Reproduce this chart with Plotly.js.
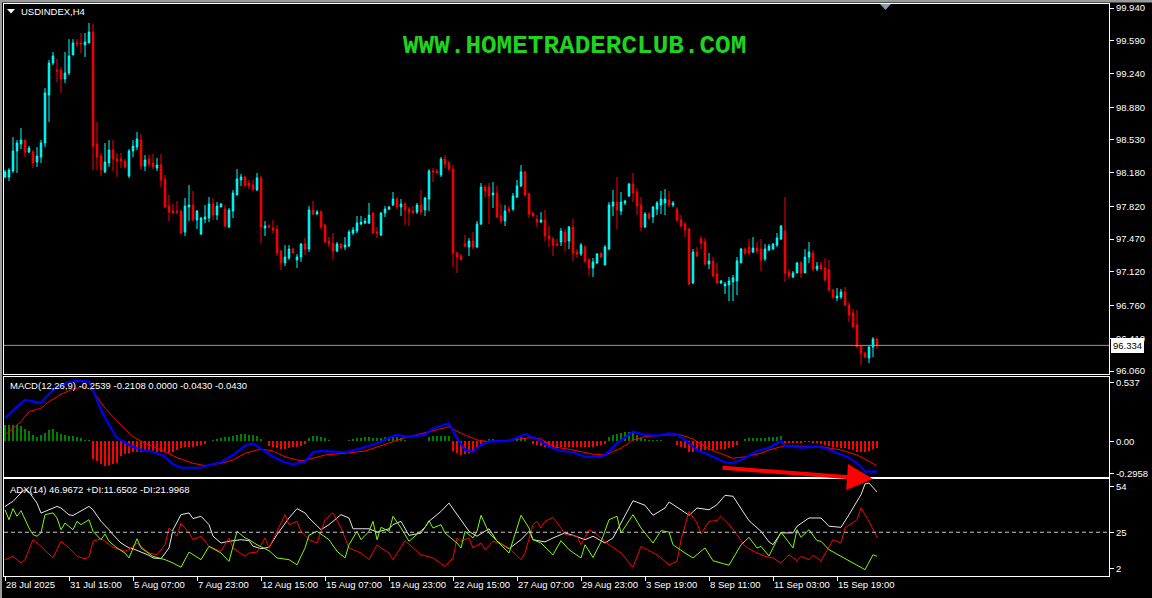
<!DOCTYPE html>
<html><head><meta charset="utf-8">
<script src="https://cdn.plot.ly/plotly-3.0.1.min.js"></script>
<style>html,body{margin:0;padding:0;background:#000;}#chart{width:1152px;height:598px;}</style>
</head><body><div id="chart"></div>
<script>
const symbolTitle = 'USDINDEX,H4';
const watermark = 'WWW.HOMETRADERCLUB.COM';
const macdTitle = 'MACD(12,26,9) -0.2539 -0.2108 0.0000 -0.0430 -0.0430';
const adxTitle = 'ADX(14) 46.9672 +DI:11.6502 -DI:21.9968';

const openP = [98.134,98.134,98.198,98.411,98.486,98.529,98.401,98.401,98.294,98.347,
98.497,99.010,99.352,99.277,99.277,99.181,99.245,99.438,99.566,99.566,
99.545,99.566,99.683,98.486,98.358,98.188,98.283,98.422,98.326,98.326,
98.304,98.145,98.411,98.454,98.529,98.251,98.326,98.283,98.229,98.262,
98.113,97.823,97.770,97.770,97.770,97.545,97.813,97.834,97.674,97.524,
97.684,97.695,97.845,97.727,97.813,97.791,97.599,97.770,97.941,98.102,
98.134,98.070,98.048,97.995,98.123,97.588,97.610,97.588,97.577,97.342,
97.215,97.268,97.364,97.247,97.278,97.417,97.364,97.781,97.738,97.759,
97.620,97.449,97.428,97.342,97.417,97.385,97.396,97.535,97.556,97.631,
97.642,97.642,97.749,97.545,97.513,97.749,97.791,97.834,97.898,97.813,
97.845,97.791,97.770,97.759,97.834,97.781,97.898,98.198,98.198,98.155,
98.326,98.283,98.219,97.321,97.289,97.417,97.385,97.449,97.385,97.631,
98.027,98.027,97.941,97.963,97.717,97.663,97.791,97.791,97.920,98.038,
98.188,97.952,97.749,97.684,97.652,97.674,97.503,97.471,97.417,97.439,
97.545,97.449,97.599,97.332,97.310,97.385,97.247,97.161,97.215,97.321,
97.193,97.364,97.823,97.866,97.770,97.856,97.931,98.059,97.973,97.834,
97.599,97.738,97.706,97.791,97.834,97.856,97.888,97.834,97.791,97.674,
97.631,97.577,97.001,97.332,97.471,97.439,97.204,97.236,97.097,97.001,
96.969,96.980,97.012,97.022,97.215,97.364,97.385,97.332,97.374,97.364,
97.257,97.353,97.364,97.406,97.471,97.556,97.118,97.065,97.108,97.215,
97.108,97.278,97.321,97.150,97.193,97.161,97.140,96.926,96.840,96.851,
96.905,96.765,96.680,96.552,96.327,96.252,96.199,96.316,96.402];
const highP = [98.209,98.229,98.561,98.529,98.657,98.529,98.465,98.422,98.454,98.529,
99.084,99.384,99.470,99.395,99.309,99.470,99.608,99.608,99.608,99.673,
99.673,99.780,99.769,98.722,98.390,98.497,98.529,98.529,98.390,98.390,
98.326,98.432,98.529,98.615,98.593,98.369,98.369,98.379,98.337,98.379,
98.155,97.941,97.845,97.877,97.781,97.909,98.048,97.984,97.781,97.706,
97.834,97.920,97.909,97.866,97.856,97.834,97.802,97.995,98.219,98.166,
98.145,98.102,98.102,98.177,98.145,97.663,97.631,97.674,97.620,97.353,
97.406,97.406,97.374,97.310,97.428,97.481,97.823,97.877,97.781,97.781,
97.631,97.492,97.535,97.439,97.428,97.492,97.567,97.599,97.717,97.717,
97.695,97.856,97.759,97.599,97.759,97.823,97.823,97.973,97.920,97.898,
97.866,97.813,97.823,97.856,97.995,97.920,98.219,98.229,98.219,98.347,
98.369,98.304,98.262,97.332,97.310,97.513,97.481,97.545,97.663,98.070,
98.048,98.070,98.080,98.038,97.845,97.834,97.823,97.963,98.102,98.262,
98.198,97.963,97.759,97.727,97.759,97.781,97.610,97.492,97.471,97.588,
97.577,97.610,97.684,97.364,97.428,97.406,97.268,97.268,97.321,97.321,
97.406,97.866,97.995,98.134,97.973,97.888,98.070,98.177,98.016,97.920,
97.759,97.759,97.823,97.877,97.984,98.005,97.984,97.877,97.813,97.727,
97.652,97.588,97.364,97.385,97.503,97.481,97.321,97.278,97.215,97.033,
97.012,97.065,97.086,97.278,97.374,97.374,97.471,97.492,97.439,97.471,
97.417,97.417,97.428,97.535,97.620,97.920,97.150,97.129,97.225,97.236,
97.364,97.439,97.353,97.225,97.225,97.268,97.247,96.937,96.947,96.937,
96.958,96.797,96.723,96.712,96.338,96.263,96.327,96.423,96.413];
const lowP = [98.123,98.091,98.177,98.177,98.432,98.347,98.390,98.229,98.241,98.283,
98.454,98.722,99.330,99.149,99.032,99.138,99.223,99.438,99.523,99.459,
99.416,99.566,98.209,98.209,98.145,98.177,98.241,98.198,98.134,98.229,
98.229,98.123,98.347,98.422,98.209,98.198,98.241,98.219,98.198,98.027,
97.802,97.663,97.749,97.738,97.524,97.503,97.663,97.663,97.577,97.513,
97.642,97.652,97.674,97.674,97.813,97.599,97.588,97.695,97.941,98.038,
98.027,98.005,97.984,97.984,97.428,97.503,97.588,97.535,97.289,97.140,
97.182,97.247,97.310,97.161,97.225,97.300,97.332,97.727,97.727,97.577,
97.428,97.385,97.257,97.332,97.364,97.353,97.385,97.513,97.535,97.620,
97.631,97.631,97.524,97.481,97.503,97.706,97.781,97.823,97.791,97.717,
97.620,97.610,97.749,97.738,97.727,97.717,97.770,98.080,98.166,98.134,
98.229,98.198,97.172,97.108,97.247,97.385,97.289,97.364,97.374,97.620,
97.920,97.631,97.802,97.695,97.631,97.610,97.749,97.770,97.909,98.027,
97.931,97.695,97.706,97.599,97.642,97.449,97.385,97.289,97.396,97.396,
97.342,97.364,97.236,97.268,97.289,97.215,97.086,97.065,97.204,97.268,
97.193,97.353,97.717,97.577,97.727,97.834,97.920,97.866,97.727,97.556,
97.588,97.674,97.642,97.727,97.738,97.727,97.813,97.813,97.652,97.599,
97.492,96.980,96.990,97.278,97.364,97.193,97.150,97.065,96.990,96.990,
96.883,96.808,96.808,96.872,97.215,97.300,97.300,97.321,97.321,97.129,
97.236,97.342,97.353,97.385,97.460,97.012,97.044,97.054,97.108,97.054,
97.108,97.215,97.129,97.129,97.140,97.022,96.915,96.830,96.808,96.830,
96.755,96.584,96.530,96.316,96.124,96.199,96.145,96.210,96.295];
const closeP = [98.188,98.209,98.411,98.497,98.529,98.401,98.443,98.283,98.358,98.497,
99.032,99.352,99.427,99.266,99.181,99.245,99.427,99.566,99.555,99.555,
99.577,99.683,98.465,98.347,98.209,98.294,98.422,98.326,98.304,98.304,
98.241,98.411,98.465,98.540,98.251,98.315,98.272,98.241,98.262,98.102,
97.813,97.759,97.749,97.759,97.535,97.823,97.834,97.674,97.770,97.695,
97.706,97.845,97.727,97.823,97.845,97.610,97.781,97.963,98.113,98.134,
98.048,98.038,98.005,98.123,97.599,97.610,97.599,97.567,97.321,97.215,
97.278,97.364,97.321,97.278,97.417,97.364,97.781,97.738,97.759,97.599,
97.439,97.417,97.342,97.417,97.374,97.406,97.545,97.567,97.642,97.652,
97.663,97.727,97.535,97.535,97.749,97.791,97.813,97.898,97.813,97.845,
97.781,97.759,97.749,97.834,97.759,97.909,98.198,98.188,98.177,98.326,
98.272,98.219,97.321,97.278,97.247,97.396,97.449,97.385,97.631,98.027,
97.984,97.931,97.963,97.706,97.663,97.770,97.770,97.931,98.038,98.188,
97.941,97.738,97.717,97.652,97.674,97.503,97.471,97.406,97.406,97.556,
97.439,97.599,97.321,97.310,97.406,97.236,97.161,97.225,97.310,97.278,
97.385,97.834,97.866,97.781,97.866,97.877,98.059,97.963,97.823,97.599,
97.738,97.695,97.813,97.856,97.898,97.898,97.834,97.856,97.674,97.610,
97.567,96.990,97.332,97.289,97.428,97.204,97.236,97.076,97.001,97.022,
96.990,97.022,97.054,97.236,97.364,97.321,97.321,97.374,97.342,97.247,
97.364,97.396,97.417,97.481,97.610,97.108,97.076,97.108,97.215,97.108,
97.278,97.332,97.150,97.182,97.150,97.033,96.926,96.851,96.862,96.905,
96.765,96.658,96.530,96.316,96.252,96.210,96.316,96.402,96.334];

const macdHist = [0.150,0.150,0.150,0.147,0.144,0.113,0.098,0.058,0.043,0.058,
0.077,0.104,0.113,0.083,0.067,0.058,0.052,0.046,0.037,0.028,
0.015,0.012,-0.162,-0.178,-0.208,-0.223,-0.217,-0.208,-0.193,-0.132,
-0.116,-0.107,-0.101,-0.095,-0.095,-0.086,-0.086,-0.095,-0.101,-0.095,
-0.101,-0.107,-0.095,-0.077,-0.064,-0.055,-0.055,-0.049,-0.040,-0.034,
-0.024,0.006,0.015,0.021,0.028,0.037,0.043,0.052,0.064,0.070,
0.070,0.064,0.058,0.046,0.021,0.006,-0.040,-0.046,-0.064,-0.070,
-0.070,-0.064,-0.055,-0.046,-0.040,-0.024,0.028,0.046,0.052,0.043,
0.028,0.015,0.009,0.003,0.001,0.006,0.012,0.021,0.028,0.034,
0.037,0.040,0.034,0.028,0.034,0.037,0.040,0.043,0.043,0.028,
0.012,0.009,0.006,0.006,0.003,0.006,0.037,0.046,0.049,0.052,
0.052,0.046,-0.086,-0.107,-0.122,-0.119,-0.107,-0.101,-0.070,-0.040,
-0.009,0.021,0.021,0.006,-0.003,-0.003,0.001,0.009,0.028,0.037,
0.034,0.006,-0.021,-0.034,-0.040,-0.052,-0.058,-0.058,-0.058,-0.055,
-0.055,-0.052,-0.052,-0.049,-0.049,-0.049,-0.049,-0.046,-0.037,-0.031,
-0.021,0.037,0.058,0.073,0.080,0.083,0.089,0.083,0.064,0.034,
0.021,0.015,0.012,0.012,0.012,0.009,0.006,0.003,-0.034,-0.046,
-0.064,-0.095,-0.095,-0.089,-0.083,-0.080,-0.077,-0.077,-0.077,-0.070,
-0.067,-0.064,-0.052,-0.034,0.003,0.021,0.031,0.034,0.034,0.034,
0.034,0.037,0.037,0.037,0.052,-0.018,-0.018,-0.015,-0.012,-0.012,
-0.009,-0.009,-0.015,-0.018,-0.024,-0.034,-0.040,-0.046,-0.055,-0.061,
-0.064,-0.070,-0.077,-0.095,-0.101,-0.101,-0.089,-0.070,-0.061];

const macdBar = [0,3,5,7,9,10,12,16,18,21,22,24,26,28,31,34,37,40,42,44,49,51,54,57,60,62,64,67,70,72,75,77,79,82,85,89,91,94,96,98,100,104,105,107,110,111,113,115,117,119,121,126,130,133,136,139,142,145,149,150,153,156,157,160,163,166,168,170,173,176,180,182,185,188,191,194,195,199,203,205,208,211,214,215,218];
const macdLine = [0.213,0.320,0.381,0.365,0.354,0.399,0.473,0.546,0.556,0.549,0.473,0.289,0.152,0.032,-0.032,-0.078,-0.094,-0.140,-0.209,-0.241,-0.241,-0.216,-0.191,-0.124,-0.039,-0.017,-0.069,-0.140,-0.191,-0.209,-0.185,-0.099,-0.087,-0.094,-0.099,-0.062,-0.039,-0.002,0.035,0.060,0.044,0.053,0.060,0.121,0.158,0.167,0.029,-0.078,-0.094,-0.032,-0.002,0.005,0.066,0.023,-0.048,-0.087,-0.099,-0.140,-0.140,-0.124,-0.017,0.060,0.090,0.060,0.053,0.075,0.066,0.014,-0.078,-0.124,-0.191,-0.200,-0.149,-0.087,-0.057,0.005,-0.039,-0.057,-0.048,-0.062,-0.108,-0.149,-0.231,-0.277,-0.277];
const signalBar = [0,4,6,9,11,14,17,20,22,25,29,32,35,39,43,47,50,54,57,60,64,67,70,74,77,80,85,90,94,100,106,111,114,118,121,127,131,134,137,142,147,150,154,157,160,165,169,172,176,182,185,189,191,195,204,209,213,218];
const signalLine = [0.060,0.182,0.274,0.305,0.365,0.433,0.482,0.503,0.464,0.305,0.152,0.044,-0.017,-0.078,-0.149,-0.200,-0.222,-0.200,-0.170,-0.108,-0.069,-0.087,-0.140,-0.179,-0.154,-0.124,-0.108,-0.087,-0.039,0.035,0.090,0.136,0.075,0.014,-0.002,0.014,0.035,0.023,-0.048,-0.078,-0.117,-0.124,-0.062,0.014,0.044,0.060,0.060,0.023,-0.069,-0.154,-0.140,-0.108,-0.078,-0.039,-0.048,-0.078,-0.124,-0.222];

const adxBar = [0,2,4,5,6,8,9,11,13,14,16,17,19,20,21,22,24,26,27,29,31,32,34,36,37,39,41,42,44,46,47,49,51,52,54,56,59,61,62,64,66,68,71,73,75,76,79,81,84,86,87,91,93,96,97,99,101,104,106,109,111,113,115,116,118,121,123,126,129,131,132,135,137,140,142,145,147,150,152,155,157,160,162,165,166,169,171,173,176,178,180,182,186,189,191,192,194,197,198,201,204,206,209,211,214,215,216,218];
const adxLine = [41.3,44.5,49.8,51.9,50.4,43.4,37.1,39.2,41.3,40.3,36.0,35.6,38.6,39.8,41.3,39.2,31.9,26.6,23.5,18.2,15.1,14.6,12.5,10.4,8.8,8.3,15.1,26.6,36.1,37.2,33.6,35.1,29.8,22.5,18.2,19.3,20.3,19.7,16.2,14.6,15.5,23.5,34.0,39.9,37.2,34.0,26.6,29.8,36.1,34.0,27.2,27.2,25.1,27.2,29.8,31.9,23.0,24.5,31.9,38.2,43.4,36.5,28.8,25.6,22.5,27.2,19.3,14.6,20.3,25.6,20.3,18.9,21.4,24.6,23.1,20.3,22.5,18.2,21.4,36.1,44.9,42.0,35.7,40.3,44.1,39.2,35.7,40.3,39.2,42.4,48.3,47.7,32.3,25.6,18.9,17.2,24.6,24.6,28.8,34.0,34.0,28.8,28.1,36.1,48.7,55.4,56.1,50.4];
const plusDiBar = [0,1,2,3,4,6,7,8,9,10,12,13,14,15,17,18,19,21,22,24,25,26,28,30,31,33,34,35,37,40,42,44,46,49,51,54,56,58,60,61,63,66,68,71,73,75,76,78,81,83,85,86,88,89,91,92,93,94,96,97,99,101,104,105,106,107,109,110,113,114,115,117,118,119,121,124,126,129,131,132,134,137,139,141,144,145,147,149,151,153,154,157,159,162,164,166,167,170,172,175,177,181,182,184,186,188,189,191,192,194,197,198,199,201,203,204,206,209,212,215,217,218];
const plusDi = [39.2,32.9,39.9,35.1,38.6,27.7,23.5,22.5,24.6,36.1,37.2,34.0,26.6,30.8,26.6,31.9,29.8,32.9,25.6,20.3,23.9,19.3,15.1,11.9,8.8,20.9,15.1,13.4,9.8,7.7,5.6,2.9,12.5,7.7,16.1,11.9,6.6,25.6,21.4,20.3,17.1,13.4,8.8,7.7,4.5,15.1,23.1,25.6,20.3,13.0,8.8,17.1,25.6,20.3,25.6,31.9,20.3,28.1,25.6,35.1,27.7,19.3,25.6,28.1,32.3,27.7,29.8,24.5,18.2,15.1,25.6,21.4,25.6,35.7,24.5,17.1,11.9,35.7,27.7,20.3,18.2,10.8,19.7,14.0,8.8,17.1,9.1,18.9,32.9,35.1,24.5,36.1,27.7,18.2,26.0,25.1,17.1,11.9,8.8,15.1,7.0,4.2,8.8,17.1,21.8,15.1,16.1,10.0,15.1,25.1,15.1,26.6,21.8,26.6,19.7,19.3,14.0,9.8,5.6,1.4,10.8,9.8];
const minusDiBar = [0,2,4,5,7,9,12,14,16,18,20,21,22,24,25,27,30,31,33,36,38,40,41,43,44,46,47,49,51,52,54,56,57,60,61,63,65,66,68,70,71,73,74,76,78,80,82,84,86,89,91,93,94,96,97,100,103,104,107,110,112,113,114,116,117,119,120,122,124,126,129,130,132,133,134,135,137,139,140,143,144,146,148,151,154,157,159,163,166,168,169,171,173,174,176,178,179,181,183,185,188,190,192,194,196,198,199,201,202,204,207,209,210,213,214,216,218];
const minusDi = [7.7,9.8,5.6,7.7,20.3,16.1,8.8,19.3,15.1,9.8,8.3,9.2,19.3,20.9,19.3,15.5,13.0,14.0,18.2,11.9,10.8,17.1,27.7,22.5,30.8,24.5,20.3,22.5,16.1,15.1,13.0,21.4,15.1,9.8,11.9,12.5,21.4,15.1,25.6,36.1,29.8,31.9,25.6,20.3,18.2,32.9,37.2,27.7,15.1,11.9,7.7,17.1,15.1,11.9,7.7,19.7,13.0,10.8,8.8,3.5,8.8,21.4,19.3,21.4,15.1,18.2,14.0,19.3,17.6,15.1,7.7,11.9,29.8,31.9,27.7,31.9,34.4,27.7,23.5,22.5,17.1,26.6,23.5,17.1,11.9,2.9,16.1,10.8,4.5,6.6,20.3,38.2,30.8,23.9,31.9,32.3,35.1,29.8,23.5,16.1,11.9,9.8,8.8,5.6,10.8,7.0,9.8,7.7,10.5,7.0,20.3,18.2,27.7,32.9,40.3,31.9,21.8];

const timeTickBar = [0,16,32,48,64,80,96,112,128,144,160,176,192,208];
const timeTickText = ['28 Jul 2025','31 Jul 15:00','5 Aug 07:00','7 Aug 23:00','12 Aug 15:00','15 Aug 07:00','19 Aug 23:00','22 Aug 15:00','27 Aug 07:00','29 Aug 23:00','3 Sep 19:00','8 Sep 11:00','11 Sep 03:00','15 Sep 19:00'];
const priceTicks = [99.940,99.590,99.240,98.880,98.530,98.180,97.820,97.470,97.120,96.760,96.410,96.060];
const macdTicks = [0.537,0,-0.2958];
const macdTickText = ['0.537','0.00','-0.2958'];
const adxTicks = [54,25,2];
const adxLevel = 25;
const arrowFrom = {bar:179, value:-0.241};
const arrowTo = {bar:217, value:-0.344};

// ---------- layout geometry ----------
const W = 1152, H = 598, ML = 4, MR = 43, MT = 4, MB = 22;
const plotW = W - ML - MR, plotH = H - MT - MB;
const pyP = p => (H - MB - p) / plotH;   // pixel row -> paper y
const pxP = p => (p - ML) / plotW;       // pixel col -> paper x

const bars = openP.map((_, i) => i);
const lastPrice = closeP[closeP.length - 1];
const FONT = 'Liberation Sans, Arial, sans-serif';
const tickFont = {family: FONT, size: 9.5, color: '#ffffff'};

const traces = [
  {type:'candlestick', x:bars, open:openP, high:highP, low:lowP, close:closeP,
   xaxis:'x', yaxis:'y', whiskerwidth:0,
   increasing:{line:{color:'#00ffff', width:1}, fillcolor:'#00ffff'},
   decreasing:{line:{color:'#ff0000', width:1}, fillcolor:'#ff0000'},
   hoverinfo:'skip'},
  {type:'bar', x:bars, y:macdHist, xaxis:'x2', yaxis:'y2', width:0.72,
   marker:{color:macdHist.map(v => v >= 0 ? '#008000' : '#ff0000'), line:{width:0}}, hoverinfo:'skip'},
  {type:'scatter', mode:'lines', x:signalBar, y:signalLine, xaxis:'x2', yaxis:'y2',
   line:{color:'#ff0000', width:1}, hoverinfo:'skip'},
  {type:'scatter', mode:'lines', x:macdBar, y:macdLine, xaxis:'x2', yaxis:'y2',
   line:{color:'#0000ff', width:2.2}, hoverinfo:'skip'},
  {type:'scatter', mode:'lines', x:adxBar, y:adxLine, xaxis:'x3', yaxis:'y3',
   line:{color:'#e6e6e6', width:1}, hoverinfo:'skip'},
  {type:'scatter', mode:'lines', x:minusDiBar, y:minusDi, xaxis:'x3', yaxis:'y3',
   line:{color:'#ff0000', width:1}, hoverinfo:'skip'},
  {type:'scatter', mode:'lines', x:plusDiBar, y:plusDi, xaxis:'x3', yaxis:'y3',
   line:{color:'#7cfc00', width:1}, hoverinfo:'skip'}
];

const xCommon = {range:[-0.25, 276], showgrid:false, zeroline:false, showline:true, mirror:true,
  linecolor:'#ffffff', linewidth:1, fixedrange:true};
const yCommon = {side:'right', showgrid:false, zeroline:false, showline:true, mirror:true,
  linecolor:'#ffffff', linewidth:1, ticks:'outside', ticklen:4, tickcolor:'#ffffff',
  tickfont:tickFont, tickmode:'array', fixedrange:true};

const layout = {
  width:W, height:H, paper_bgcolor:'#000000', plot_bgcolor:'#000000',
  margin:{l:ML, r:MR, t:MT, b:MB}, showlegend:false, boxgap:0.45, bargap:0,
  xaxis:Object.assign({}, xCommon, {anchor:'y', showticklabels:false, ticks:'', rangeslider:{visible:false}}),
  xaxis2:Object.assign({}, xCommon, {anchor:'y2', showticklabels:false, ticks:''}),
  xaxis3:Object.assign({}, xCommon, {anchor:'y3', tickmode:'array', tickvals:timeTickBar, ticktext:timeTickText,
     ticks:'outside', ticklen:4, tickcolor:'#ffffff', tickangle:0, ticklabelposition:'outside right',
     ticklabeloverflow:'allow', tickfont:tickFont}),
  yaxis:Object.assign({}, yCommon, {domain:[pyP(374), 1], range:[96.028, 99.983], tickvals:priceTicks, tickformat:'.3f'}),
  yaxis2:Object.assign({}, yCommon, {domain:[pyP(477), pyP(377)], range:[-0.326, 0.592], tickvals:macdTicks, ticktext:macdTickText}),
  yaxis3:Object.assign({}, yCommon, {domain:[0, pyP(479)], range:[-2.6, 58.6], tickvals:adxTicks, ticktext:adxTicks.map(String)}),
  shapes:[
    {type:'line', xref:'paper', yref:'y', x0:0, x1:1, y0:lastPrice, y1:lastPrice, line:{color:'#9a9a9a', width:1}},
    {type:'line', xref:'paper', yref:'y3', x0:0, x1:1, y0:adxLevel, y1:adxLevel, line:{color:'#c8c8c8', width:1, dash:'4px,3px'}},
    {type:'rect', xref:'paper', yref:'paper', x0:pxP(0), x1:pxP(1152), y0:pyP(0), y1:pyP(2.5), fillcolor:'#9a9a9a', line:{width:0}, layer:'above'},
    {type:'rect', xref:'paper', yref:'paper', x0:pxP(0), x1:pxP(2), y0:pyP(598), y1:pyP(0), fillcolor:'#9a9a9a', line:{width:0}, layer:'above'},
    {type:'path', xref:'paper', yref:'paper', fillcolor:'#ffffff', line:{width:0},
     path:`M ${pxP(7)},${pyP(9)} L ${pxP(15)},${pyP(9)} L ${pxP(11)},${pyP(13.5)} Z`},
    {type:'path', xref:'paper', yref:'paper', fillcolor:'#8c99a6', line:{width:0},
     path:`M ${pxP(880)},${pyP(4)} L ${pxP(891)},${pyP(4)} L ${pxP(885.5)},${pyP(10)} Z`}
  ],
  annotations:[
    {xref:'paper', yref:'paper', x:pxP(19), y:pyP(11.5), xanchor:'left', yanchor:'middle', showarrow:false,
     text:symbolTitle, font:{family:FONT, size:9.5, color:'#ffffff'}},
    {xref:'paper', yref:'paper', x:pxP(574), y:pyP(46), xanchor:'center', yanchor:'middle', showarrow:false,
     text:watermark, font:{family:'Liberation Mono, Courier New, monospace', size:26, color:'#1fd41f', weight:'bold'}},
    {xref:'paper', yref:'paper', x:pxP(8), y:pyP(385), xanchor:'left', yanchor:'middle', showarrow:false,
     text:macdTitle, font:{family:FONT, size:9.5, color:'#ffffff'}},
    {xref:'paper', yref:'paper', x:pxP(8), y:pyP(489), xanchor:'left', yanchor:'middle', showarrow:false,
     text:adxTitle, font:{family:FONT, size:9.5, color:'#ffffff'}},
    {xref:'paper', yref:'y', x:1, y:lastPrice, xanchor:'left', yanchor:'middle', xshift:2, showarrow:false,
     text:lastPrice.toFixed(3), bgcolor:'#ffffff', bordercolor:'#ffffff', borderpad:1,
     font:{family:FONT, size:9.5, color:'#000000'}},
    {xref:'x2', yref:'y2', axref:'x2', ayref:'y2', x:arrowTo.bar, y:arrowTo.value, ax:arrowFrom.bar, ay:arrowFrom.value,
     text:'', showarrow:true, arrowhead:2, arrowsize:1.3, arrowwidth:4, arrowcolor:'#ff0000'}
  ]
};

Plotly.newPlot('chart', traces, layout, {displayModeBar:false, staticPlot:true});
</script>
</body></html>
